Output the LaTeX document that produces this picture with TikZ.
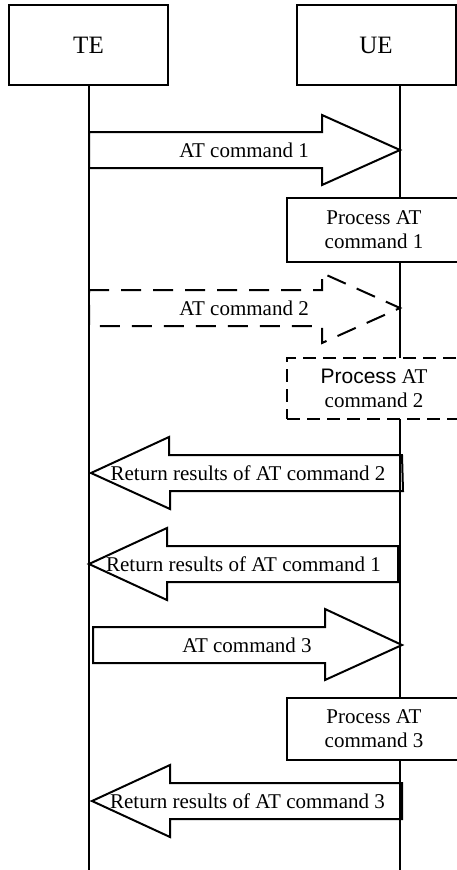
\documentclass[tikz,border=0pt]{standalone}
\usepackage{fontspec}
\setmainfont{Liberation Serif}
\newfontfamily\arialfont{Liberation Sans}
\usetikzlibrary{calc}

\begin{document}
\begin{tikzpicture}[x=1pt, y=-1pt, line width=2pt, font=\fontsize{21}{24}\selectfont]

% Define styles
\tikzset{
    entity/.style={draw, fill=white, minimum width=159pt, minimum height=80pt, font=\fontsize{25}{28}\selectfont},
    procbox/.style={draw, fill=white, align=center, inner sep=0pt, minimum width=174pt},
    msg/.style={line join=miter},
    dashedmsg/.style={msg, dash pattern=on 20pt off 12pt},
    dashedbox/.style={dash pattern=on 13pt off 7pt}
}


% the page
\useasboundingbox (0,0) rectangle (457,870);


% entities
\node[entity] (TE) at (88.5,45) {TE};
\node[entity] (UE) at (376,45) {UE};

% lifelines
\coordinate (TEline) at (89,85);
\coordinate (UEline) at (400,85);
\coordinate (TEend) at (89,870);
\coordinate (UEend) at (400,870);
\draw (TEline) -- (TEend);
\draw (UEline) -- (UEend);


% rows of the messages
\coordinate (m1) at (0,150);
\coordinate (m2) at (0,308);
\coordinate (m3) at (0,473);
\coordinate (m4) at (0,564);
\coordinate (m5) at (0,645);
\coordinate (m6) at (0,801);


% AT command 1
\draw[msg] (TEline |- m1) ++(0,-18) -- ++(233,0) -- ++(0,-17) -- (UEline |- m1) -- ++(-78,35) -- ++(0,-17) -- ++(-233,0) -- cycle;
\node (L1) at (244,150) {AT command 1};

\node[procbox, minimum height=64pt] (P1) at (374,230) {Process AT\\command 1};


% AT command 2
\draw[dashedmsg] (TEline |- m2) ++(0,-18) -- ++(233,0) -- ++(0,-17) -- (UEline |- m2) -- ++(-78,35) -- ++(0,-17) -- ++(-233,0) -- cycle;
\node (L2) at (244,308) {AT command 2};

\node[procbox, dashedbox, minimum height=61pt] (P2) at (374,388.5) {{\arialfont Process} AT\\command 2};


% results 2 and 1
\draw[msg] (UEline |- m3) ++(2,-18) -- ++(-233,0) -- ++(0,-18) -- ($(TEline |- m3)+(2,0)$) -- ++(79,36) -- ++(0,-18) -- ++(233,0) -- cycle;
\node (L3) at (248,473) {Return results of AT command 2};

\draw[msg] (UEline |- m4) ++(-2,-18) -- ++(-231,0) -- ++(0,-18) -- (TEline |- m4) -- ++(78,36) -- ++(0,-18) -- ++(231,0) -- cycle;
\node (L4) at (243.5,564) {Return results of AT command 1};


% AT command 3
\draw[msg] (TEline |- m5) ++(4,-18) -- ++(232,0) -- ++(0,-18) -- ($(UEline |- m5)+(2,0)$) -- ++(-77,35) -- ++(0,-17) -- ++(-232,0) -- cycle;
\node (L5) at (247,645) {AT command 3};

\node[procbox, minimum height=62pt] (P3) at (374,729) {Process AT\\command 3};


% results 3
\draw[msg] (UEline |- m6) ++(2,-18) -- ++(-232,0) -- ++(0,-18) -- ($(TEline |- m6)+(3,0)$) -- ++(78,36) -- ++(0,-18) -- ++(232,0) -- cycle;
\node (L6) at (247.5,801) {Return results of AT command 3};

\end{tikzpicture}
\end{document}
